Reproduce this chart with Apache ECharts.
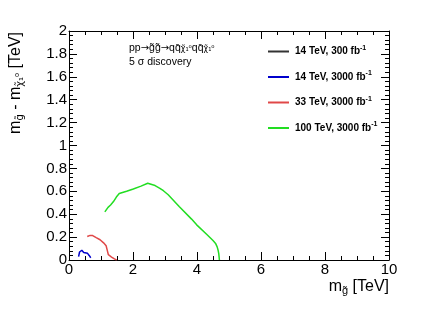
<!DOCTYPE html>
<html><head><meta charset="utf-8">
<script src="https://cdn.jsdelivr.net/npm/echarts@6/dist/echarts.min.js"></script>
<style>html,body{margin:0;padding:0;background:#fff}#c{width:432px;height:310px}</style>
</head><body><div id="c"></div>
<script>
// Data (m_gluino [TeV], mass difference [TeV])
const xTicks = [0, 2, 4, 6, 8, 10];
const yTicks = [0, 0.2, 0.4, 0.6, 0.8, 1, 1.2, 1.4, 1.6, 1.8, 2];
const seriesNames = ['14 TeV, 300 fb', '14 TeV, 3000 fb', '33 TeV, 3000 fb', '100 TeV, 3000 fb'];
const seriesColors = ['#333333', '#0000cc', '#e04848', '#22dd22'];
const s14_300 = [];
const s14_3000 = [[0.30,0.03],[0.33,0.07],[0.40,0.085],[0.46,0.065],[0.52,0.05],[0.58,0.058],[0.63,0.04],[0.68,0.02]];
const s33_3000 = [[0.57,0.205],[0.66,0.215],[0.74,0.213],[0.85,0.195],[0.97,0.177],[1.08,0.15],[1.16,0.124],[1.20,0.08],[1.23,0.046],[1.33,0.026],[1.42,0.01],[1.49,0.0]];
const s100_3000 = [[1.12,0.42],[1.22,0.46],[1.30,0.48],[1.39,0.51],[1.48,0.55],[1.57,0.58],[1.80,0.60],[2.01,0.62],[2.25,0.645],[2.46,0.67],[2.69,0.65],[2.84,0.626],[2.95,0.605],[3.10,0.57],[3.45,0.465],[3.83,0.357],[3.99,0.307],[4.30,0.225],[4.50,0.17],[4.58,0.145],[4.63,0.115],[4.66,0.085],[4.68,0.055],[4.69,0.03],[4.70,0.0]];
const allData = [s14_300, s14_3000, s33_3000, s100_3000];

const chart = echarts.init(document.getElementById('c'), null, {renderer:'canvas'});
const FONT = 'Liberation Sans, Arial, sans-serif';
const baseAxis = {
  type:'value', splitLine:{show:false},
  axisLine:{show:true, onZero:false, lineStyle:{color:'#000', width:1}},
};
const option = {
  animation:false,
  grid:{left:69, right:43, top:31, bottom:50, containLabel:false},
  xAxis:[
    Object.assign({}, baseAxis, {position:'bottom', min:xTicks[0], max:xTicks[xTicks.length-1], interval:2,
      axisTick:{show:true, inside:true, length:8, lineStyle:{color:'#000'}},
      minorTick:{show:true, splitNumber:4, length:4, lineStyle:{color:'#000'}},
      axisLabel:{show:true, fontFamily:FONT, fontSize:15, color:'#000', margin:2}}),
    Object.assign({}, baseAxis, {position:'top', min:0, max:10, interval:2,
      axisTick:{show:true, inside:true, length:8, lineStyle:{color:'#000'}},
      minorTick:{show:true, splitNumber:4, length:4, lineStyle:{color:'#000'}},
      axisLabel:{show:false}})
  ],
  yAxis:[
    Object.assign({}, baseAxis, {position:'left', min:yTicks[0], max:yTicks[yTicks.length-1], interval:0.2,
      axisTick:{show:true, inside:true, length:8, lineStyle:{color:'#000'}},
      minorTick:{show:true, splitNumber:5, length:4, lineStyle:{color:'#000'}},
      axisLabel:{show:true, fontFamily:FONT, fontSize:15, color:'#000', margin:2,
        formatter:function(v){return String(Math.round(v*10)/10);}}}),
    Object.assign({}, baseAxis, {position:'right', min:0, max:2, interval:0.2,
      axisTick:{show:true, inside:true, length:8, lineStyle:{color:'#000'}},
      minorTick:{show:true, splitNumber:5, length:4, lineStyle:{color:'#000'}},
      axisLabel:{show:false}})
  ],
  legend:{
    orient:'vertical', left:263, top:39.5, itemGap:12.5, itemWidth:21, itemHeight:2, icon:'rect',
    data:seriesNames,
    formatter:function(n){return '{b|'+n+'}{sup|-1}';},
    textStyle:{fontFamily:FONT, color:'#000', padding:[0,0,0,1],
      rich:{b:{fontSize:10, fontWeight:'bold', fontFamily:FONT, color:'#000', lineHeight:14},
            sup:{fontSize:7, fontWeight:'bold', fontFamily:FONT, color:'#000', verticalAlign:'top', lineHeight:14, padding:[0,0,6,0]}}}
  },
  series: seriesNames.map(function(n,i){
    return {name:n, type:'line', xAxisIndex:0, yAxisIndex:0, data:allData[i], showSymbol:false, symbol:'none',
      lineStyle:{color:seriesColors[i], width:1.5}, itemStyle:{color:seriesColors[i]}};
  }),
  graphic:[
    {type:'text', left:129, top:43, style:{
      text:'{t|pp}{a|→}{t|g̃g̃}{a|→}{t|qq̄}{s|χ̃₁⁰}{t|qq̄}{s|χ̃₁⁰}',
      rich:{t:{fontFamily:FONT, fontSize:10.5, fill:'#000'}, a:{fontFamily:'DejaVu Sans', fontSize:10, fill:'#000'}, s:{fontFamily:'DejaVu Sans', fontSize:8, fill:'#000'}}}},
    {type:'text', left:129, top:57, style:{text:'5 σ discovery', fontFamily:FONT, fontSize:10.5, fill:'#000'}},
    {type:'text', x:389, y:287, style:{
      text:'{t|m}{s|g̃}{t| [TeV]}', align:'right', verticalAlign:'middle',
      rich:{t:{fontFamily:FONT, fontSize:16, fill:'#000'}, s:{fontFamily:FONT, fontSize:11, fill:'#000', padding:[8,0,0,0]}}}},
    {type:'text', x:16, y:32, rotation:Math.PI/2, style:{
      text:'{t|m}{s|g̃}{t| - m}{s|χ̃₁⁰}{t| [TeV]}', align:'right', verticalAlign:'middle',
      rich:{t:{fontFamily:FONT, fontSize:16, fill:'#000'}, s:{fontFamily:'DejaVu Sans', fontSize:10, fill:'#000', padding:[8,0,0,0]}}}}
  ]
};
chart.setOption(option);
</script></body></html>
